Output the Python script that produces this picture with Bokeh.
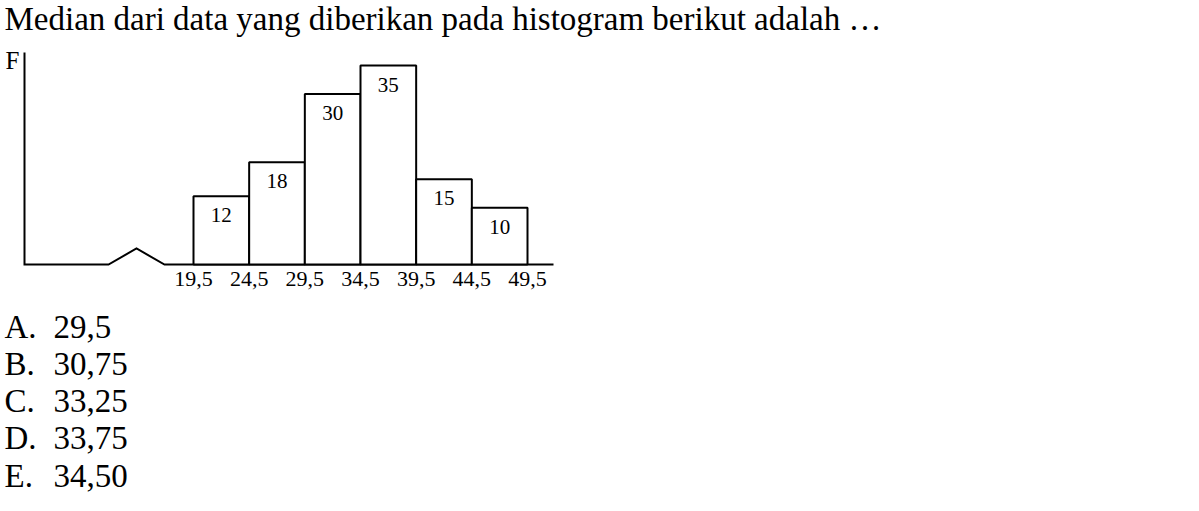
from bokeh.plotting import figure
from bokeh.models import Range1d, Label, ColumnDataSource
from bokeh.core.properties import value
from bokeh.embed import file_html
from bokeh.resources import INLINE

# ---- data ----
class_edges = [19.5, 24.5, 29.5, 34.5, 39.5, 44.5, 49.5]
edge_labels = ["19,5", "24,5", "29,5", "34,5", "39,5", "44,5", "49,5"]
frequencies = [12, 18, 30, 35, 15, 10]
freq_labels = ["12", "18", "30", "35", "15", "10"]
question = "Median dari data yang diberikan pada histogram berikut adalah \u2026"
option_letters = ["A.", "B.", "C.", "D.", "E."]
option_values = ["29,5", "30,75", "33,25", "33,75", "34,50"]
y_axis_label = "F"

# ---- layout (pixel geometry of the page) ----
W, H = 1199, 511
FONT = "Liberation Serif"
SX = (527 - 193) / (class_edges[-1] - class_edges[0])   # px per class unit
SY = (264 - 65) / max(frequencies)                      # px per frequency unit


def dx(px):
    return class_edges[0] + (px - 193) / SX


def dy(py):
    return (264 - py) / SY


p = figure(width=W, height=H, x_range=Range1d(dx(0), dx(W)), y_range=Range1d(dy(H), dy(0)),
           output_backend="svg", toolbar_location=None, min_border=0,
           x_axis_location=None, y_axis_location=None)
p.outline_line_color = None
p.xgrid.visible = False
p.ygrid.visible = False
p.background_fill_color = "white"
p.border_fill_color = "white"

# axes with the broken horizontal axis
p.line(x=[dx(24), dx(24), dx(108), dx(136), dx(164), dx(553)],
       y=[dy(52), dy(264), dy(264), dy(248), dy(264), dy(264)],
       line_color="black", line_width=2, line_join="miter")

# bars
bars = ColumnDataSource(dict(left=class_edges[:-1], right=class_edges[1:], top=frequencies,
                             mid=[(a + b) / 2 for a, b in zip(class_edges[:-1], class_edges[1:])],
                             lab=freq_labels))
p.quad(left="left", right="right", top="top", bottom=0, source=bars,
       fill_color="white", line_color="black", line_width=2)
p.text(x="mid", y="top", text="lab", source=bars, text_font=value(FONT), text_font_size="21px",
       text_align="center", text_baseline="top", y_offset=12, text_color="black")

# tick labels
ticks = ColumnDataSource(dict(x=class_edges, y=[0] * len(class_edges), t=edge_labels))
p.text(x="x", y="y", text="t", source=ticks, text_font=value(FONT), text_font_size="22px",
       text_align="center", text_baseline="top", y_offset=7, text_color="black")

# axis label, question, options
p.add_layout(Label(x=dx(5), y=dy(60), text=y_axis_label, text_font=FONT, text_font_size="25px",
                   text_baseline="alphabetic", text_color="black"))
p.add_layout(Label(x=dx(4), y=dy(18), text=question, text_font=FONT, text_font_size="33px",
                   text_baseline="alphabetic", text_color="black"))
for i, (letter, val) in enumerate(zip(option_letters, option_values)):
    base = 326 + 37.3 * i
    p.add_layout(Label(x=dx(4), y=dy(base), text=letter, text_font=FONT, text_font_size="33px",
                       text_baseline="alphabetic", text_color="black"))
    p.add_layout(Label(x=dx(53), y=dy(base), text=val, text_font=FONT, text_font_size="33px",
                       text_baseline="alphabetic", text_color="black"))

open("out.html", "w").write(file_html(p, INLINE))
